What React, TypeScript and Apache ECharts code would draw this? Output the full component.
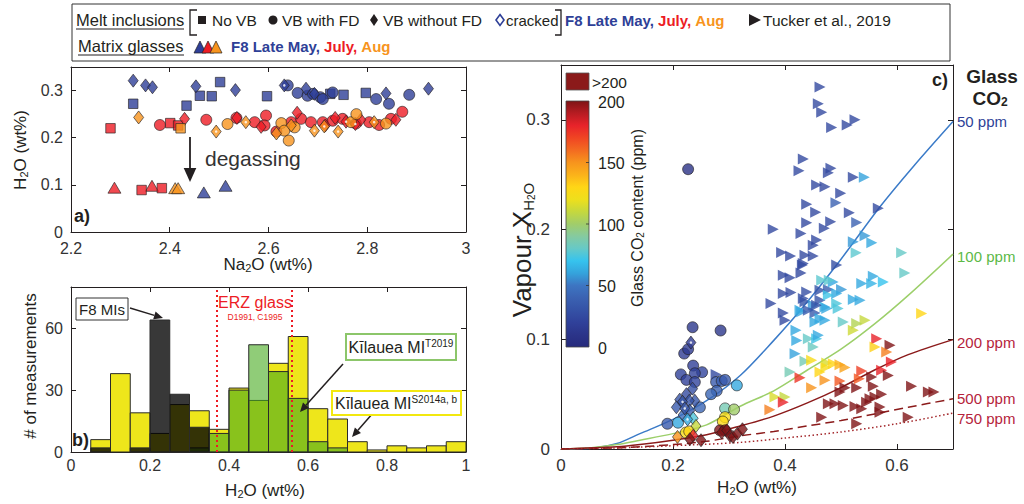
import React, { useEffect, useRef } from 'react';
import * as echarts from 'echarts';

// ---------------- Panel a: Na2O vs H2O (wt%) ----------------
const aBlueSquare = [[2.326, 0.272], [2.434, 0.268], [2.461, 0.289], [2.485, 0.288], [2.502, 0.318], [2.597, 0.288], [2.725, 0.293], [2.752, 0.291], [2.797, 0.295]];
const aBlueCircle = [[2.639, 0.311], [2.659, 0.295], [2.679, 0.289], [2.69, 0.293], [2.705, 0.286], [2.71, 0.282], [2.73, 0.296], [2.818, 0.282], [2.844, 0.272], [2.885, 0.291]];
const aBlueDiamond = [[2.326, 0.321], [2.351, 0.311], [2.365, 0.307], [2.453, 0.309], [2.533, 0.301], [2.676, 0.304], [2.693, 0.293], [2.838, 0.294], [2.924, 0.304]];
const aBlueCracked = [[2.632, 0.311]];
const aBlueTriangle = [[2.469, 0.084], [2.513, 0.098]];

const aRedSquare = [[2.28, 0.22], [2.401, 0.231], [2.417, 0.226], [2.343, 0.089], [2.384, 0.093]];
const aRedCircle = [[2.38, 0.227], [2.474, 0.238], [2.535, 0.242], [2.572, 0.233], [2.595, 0.247], [2.592, 0.226], [2.616, 0.213], [2.646, 0.233], [2.666, 0.24], [2.686, 0.233], [2.71, 0.233], [2.73, 0.236], [2.75, 0.24], [2.777, 0.23], [2.804, 0.233], [2.824, 0.227], [2.848, 0.24], [2.871, 0.255]];
const aRedDiamond = [[2.43, 0.24], [2.536, 0.242], [2.658, 0.253], [2.735, 0.242], [2.787, 0.238], [2.858, 0.238], [2.585, 0.223], [2.715, 0.226]];
const aRedCracked = [[2.757, 0.234], [2.776, 0.229]];
const aRedTriangle = [[2.288, 0.094], [2.364, 0.098]];

const aOrangeSquare = [[2.422, 0.22]];
const aOrangeCircle = [[2.517, 0.229], [2.626, 0.231], [2.641, 0.194], [2.653, 0.222], [2.632, 0.215], [2.767, 0.233], [2.778, 0.25], [2.838, 0.23]];
const aOrangeDiamond = [[2.337, 0.243], [2.616, 0.209], [2.646, 0.226]];
const aOrangeCracked = [[2.494, 0.213], [2.554, 0.233], [2.693, 0.215], [2.713, 0.224], [2.741, 0.213], [2.814, 0.233]];
const aOrangeTriangle = [[2.411, 0.093], [2.417, 0.093]];

// ---------------- Panel b: histograms of H2O ----------------
const binStarts = [0.05, 0.1, 0.15, 0.2, 0.25, 0.3, 0.35, 0.4, 0.45, 0.5, 0.55, 0.6, 0.65, 0.7, 0.75, 0.8, 0.85, 0.9, 0.95];
const BIN_W = 0.05;
const histS2014 = [6, 38, 19, 9, 23, 20, 11, 31, 25, 43, 56, 21, 16, 5, 1, 3, 2, 3, 5];
const histT2019 = [0, 0, 0, 0, 0, 2, 9, 30, 52, 39, 26, 5, 2, 0, 0, 0, 0, 0, 0];
const histF8 = [2, 0, 2, 64, 28, 12, 0, 0, 0, 0, 0, 0, 0, 0, 0, 0, 0, 0, 0];
const erzGlass = [0.37, 0.56];

// ---------------- Panel c: H2O vs vapour X_H2O, glass CO2 (ppm) ----------------
const cCircle = [[0.227, 0.255, 8], [0.235, 0.111, 12], [0.285, 0.108, 12], [0.22, 0.087, 15], [0.227, 0.091, 14], [0.236, 0.076, 18], [0.214, 0.068, 20], [0.252, 0.07, 22], [0.239, 0.069, 20], [0.224, 0.063, 18], [0.239, 0.061, 22], [0.277, 0.061, 35], [0.287, 0.062, 38], [0.293, 0.063, 35], [0.278, 0.053, 40], [0.268, 0.05, 42], [0.314, 0.058, 62], [0.248, 0.038, 42], [0.19, 0.023, 35], [0.209, 0.024, 62], [0.293, 0.037, 85], [0.309, 0.036, 100], [0.293, 0.029, 125], [0.289, 0.025, 128], [0.223, 0.015, 125], [0.229, 0.016, 130], [0.284, 0.017, 250], [0.293, 0.017, 250]];
const cDiamond = [[0.224, 0.05, 25], [0.235, 0.055, 28], [0.212, 0.045, 30], [0.239, 0.044, 32], [0.229, 0.044, 30], [0.206, 0.038, 35], [0.23, 0.035, 38], [0.218, 0.031, 45], [0.236, 0.028, 75], [0.241, 0.021, 110], [0.208, 0.011, 150], [0.236, 0.012, 180], [0.23, 0.009, 250], [0.25, 0.008, 250], [0.287, 0.015, 250], [0.296, 0.017, 250], [0.302, 0.012, 250], [0.307, 0.011, 250], [0.315, 0.014, 250], [0.324, 0.018, 250]];
const cCracked = [[0.232, 0.097, 15], [0.217, 0.043, 30], [0.221, 0.037, 32], [0.226, 0.027, 62]];
const cTucker = [
  [0.4625, 0.33, 25], [0.4595, 0.3146, 25], [0.4655, 0.307, 25], [0.4833, 0.293, 25], [0.511, 0.2954, 25], [0.525, 0.3, 25],
  [0.4327, 0.2644, 25], [0.425, 0.2537, 25], [0.482, 0.2559, 25], [0.4774, 0.2519, 25], [0.522, 0.2477, 25], [0.5416, 0.2477, 60],
  [0.4565, 0.2406, 25], [0.4714, 0.239, 25], [0.4994, 0.233, 25], [0.4387, 0.223, 25], [0.491, 0.2245, 40], [0.4548, 0.2157, 25], [0.5148, 0.2154, 25], [0.5666, 0.2194, 25],
  [0.4387, 0.2062, 25], [0.4816, 0.2071, 25], [0.528, 0.2065, 40], [0.379, 0.2002, 25], [0.4286, 0.1965, 25], [0.4702, 0.2011, 25], [0.4565, 0.1904, 25], [0.4505, 0.1858, 25], [0.522, 0.1889, 58], [0.543, 0.1943, 58], [0.555, 0.188, 62],
  [0.394, 0.1792, 25], [0.41, 0.1758, 25], [0.4357, 0.1767, 25], [0.4505, 0.1758, 25], [0.527, 0.1788, 78], [0.6083, 0.1788, 80],
  [0.431, 0.1676, 25], [0.397, 0.1584, 25], [0.409, 0.156, 25], [0.4286, 0.1605, 25], [0.4923, 0.1676, 28], [0.4327, 0.169, 25],
  [0.4107, 0.1426, 25], [0.4387, 0.1432, 28], [0.4357, 0.1341, 30], [0.4505, 0.131, 58], [0.4625, 0.1356, 30], [0.4714, 0.1295, 62], [0.4774, 0.1454, 38], [0.4923, 0.1326, 75], [0.4655, 0.1539, 78], [0.486, 0.1523, 62],
  [0.375, 0.1326, 25], [0.397, 0.124, 25], [0.4298, 0.125, 60], [0.4536, 0.124, 35], [0.4536, 0.1158, 62], [0.4714, 0.1173, 62],
  [0.5577, 0.1575, 62], [0.537, 0.1509, 62], [0.5548, 0.1509, 65], [0.5756, 0.1523, 70], [0.614, 0.1605, 80], [0.479, 0.1539, 78], [0.501, 0.1454, 58],
  [0.397, 0.1417, 25], [0.4327, 0.1371, 28], [0.4625, 0.1447, 30], [0.4923, 0.1417, 62], [0.4774, 0.1402, 72], [0.522, 0.1362, 62], [0.534, 0.1356, 62],
  [0.4268, 0.1265, 62], [0.4417, 0.1265, 35], [0.4565, 0.131, 30], [0.4745, 0.128, 62], [0.495, 0.128, 75],
  [0.4, 0.1173, 25], [0.4625, 0.1189, 62], [0.504, 0.1158, 80],
  [0.644, 0.1234, 130], [0.543, 0.1173, 110], [0.528, 0.1143, 105], [0.522, 0.1082, 112],
  [0.4196, 0.1082, 62], [0.421, 0.099, 62], [0.4417, 0.1006, 80], [0.4565, 0.1006, 72], [0.4595, 0.1036, 62], [0.418, 0.0869, 60], [0.4505, 0.093, 82],
  [0.5637, 0.1006, 180], [0.5875, 0.0945, 250], [0.5607, 0.093, 132], [0.5816, 0.0884, 155], [0.59, 0.0793, 180],
  [0.4357, 0.0799, 85], [0.4476, 0.0808, 125], [0.4745, 0.0784, 115], [0.4863, 0.0778, 130], [0.4982, 0.0769, 140], [0.5071, 0.0742, 145],
  [0.409, 0.0701, 85], [0.4625, 0.0701, 130], [0.473, 0.0742, 125], [0.537, 0.071, 172], [0.5726, 0.0717, 180], [0.5845, 0.0671, 250], [0.5548, 0.0656, 250],
  [0.4268, 0.065, 175], [0.4476, 0.0559, 150], [0.4714, 0.0626, 150], [0.4982, 0.0619, 165], [0.5327, 0.0641, 165],
  [0.4982, 0.0519, 250], [0.5071, 0.0559, 250], [0.528, 0.0559, 250], [0.5577, 0.0571, 250], [0.5607, 0.0473, 250], [0.5726, 0.0498, 250], [0.5518, 0.0458, 250], [0.5458, 0.0427, 250], [0.525, 0.0388, 250], [0.537, 0.0367, 250], [0.5696, 0.0382, 250], [0.4774, 0.0413, 250], [0.4893, 0.0413, 250], [0.504, 0.0397, 250], [0.626, 0.0571, 250], [0.656, 0.0519, 250], [0.666, 0.0519, 250],
  [0.4, 0.0473, 110], [0.382, 0.0473, 115], [0.397, 0.0427, 180], [0.373, 0.0358, 155],
  [0.4655, 0.029, 250], [0.528, 0.023, 250], [0.5696, 0.0336, 250], [0.62, 0.029, 250],
  [0.277, 0.068, 25],
];

// Isobars (glass CO2, ppm): [H2O, X_H2O]
const iso50 = [[0, 0], [0.06, 0.001], [0.1, 0.005], [0.141, 0.014], [0.2, 0.027], [0.26, 0.044], [0.32, 0.067], [0.38, 0.099], [0.43, 0.128], [0.5, 0.173], [0.57, 0.221], [0.63, 0.258], [0.7, 0.2985]];
const iso100 = [[0, 0], [0.05, 0.001], [0.1, 0.004], [0.141, 0.008], [0.2, 0.014], [0.26, 0.022], [0.32, 0.039], [0.38, 0.053], [0.44, 0.072], [0.5, 0.091], [0.56, 0.114], [0.62, 0.14], [0.7, 0.1776]];
const iso200 = [[0, 0], [0.1, 0.002], [0.141, 0.004], [0.2, 0.008], [0.26, 0.013], [0.32, 0.021], [0.38, 0.03], [0.44, 0.042], [0.5, 0.056], [0.56, 0.072], [0.62, 0.086], [0.7, 0.0997]];
const iso500 = [[0, 0], [0.1, 0.001], [0.2, 0.004], [0.26, 0.007], [0.32, 0.012], [0.38, 0.016], [0.44, 0.021], [0.5, 0.026], [0.56, 0.032], [0.62, 0.038], [0.7, 0.0458]];
const iso750 = [[0, 0], [0.1, 0.001], [0.2, 0.003], [0.32, 0.006], [0.4, 0.01], [0.5, 0.0155], [0.6, 0.023], [0.7, 0.0327]];
const isoLabels = ['50 ppm', '100 ppm', '200 ppm', '500 ppm', '750 ppm'];
const cbTicks = [0, 50, 100, 150, 200];

// ---------------- styles ----------------
const FONT = '"Liberation Sans", Arial, Helvetica, sans-serif';
const INK = '#231f20';
const BLUE = '#2e3f97';
const RED = '#ed1c24';
const ORANGE = '#f7941d';
const JET = ['#262a7c', '#2b3489', '#30419a', '#3552a6', '#3b62b2', '#3d75c2', '#35a3dc', '#36c3ee', '#66c9c7', '#85caa0', '#a1cd6a', '#c5d83e', '#eedf1c', '#ffd616', '#fbb21a', '#f7941d', '#f36b21', '#f04523', '#e8232a', '#b71c22', '#7f1416'];

const fmt = (v: number) => String(parseFloat(v.toFixed(2)));

function axis(gridIndex: number, pos: string, min: number, max: number, interval: number, labels: boolean, fontSize = 16, margin = 8) {
  const rem = max % interval;
  return {
    type: 'value', gridIndex, position: pos, min, max, interval,
    axisLine: { show: true, onZero: false, lineStyle: { color: INK, width: 1 } },
    axisTick: { show: true, inside: true, length: 5, lineStyle: { color: INK } },
    splitLine: { show: false },
    axisLabel: { show: labels, fontFamily: FONT, fontSize, color: '#333', margin, formatter: fmt, showMaxLabel: rem < 1e-9 || Math.abs(rem - interval) < 1e-9 },
  };
}

function arrow(x1: number, y1: number, x2: number, y2: number, color = INK, w = 1.5, head = 9) {
  const a = Math.atan2(y2 - y1, x2 - x1);
  const bx = x2 - head * Math.cos(a), by = y2 - head * Math.sin(a);
  const px = Math.sin(a) * head * 0.45, py = -Math.cos(a) * head * 0.45;
  return [
    { type: 'line', shape: { x1, y1, x2: bx, y2: by }, style: { stroke: color, lineWidth: w }, z: 50 },
    { type: 'polygon', shape: { points: [[x2, y2], [bx + px, by + py], [bx - px, by - py]] }, style: { fill: color }, z: 50 },
  ];
}

function txt(x: number, y: number, text: string, o: any = {}) {
  const { rotation, z, ...style } = o;
  return {
    type: 'text', x, y, rotation: rotation || 0, z: z || 60,
    style: { text, fontFamily: FONT, fontSize: 15, fill: INK, align: 'left', verticalAlign: 'middle', ...style },
  };
}

function buildOption() {
  const series: any[] = [];
  const sc = (data: any[], symbol: string, color: string, size: any, xi: number, yi: number, extra: any = {}) => {
    series.push({
      type: 'scatter', xAxisIndex: xi, yAxisIndex: yi, data, symbol, symbolSize: size,
      itemStyle: { color, borderColor: INK, borderWidth: 0.8 }, silent: true, ...extra,
    });
    return series.length - 1;
  };
  const dot = (data: any[], xi: number, yi: number) => sc(data, 'circle', '#ffffff', 2.5, xi, yi, { itemStyle: { color: '#fff', borderWidth: 0 }, z: 5 });

  // ---- panel a ----
  const groups: [any[], any[], any[], any[], any[], string][] = [
    [aBlueSquare, aBlueCircle, aBlueDiamond, aBlueCracked, aBlueTriangle, BLUE],
    [aRedSquare, aRedCircle, aRedDiamond, aRedCracked, aRedTriangle, RED],
    [aOrangeSquare, aOrangeCircle, aOrangeDiamond, aOrangeCracked, aOrangeTriangle, ORANGE],
  ];
  groups.forEach(([sq, ci, di, cr, tr, col], gi) => {
    const z = 3 + gi * 0.1;
    sc(tr, 'triangle', col, [13, 11], 0, 0, { z });
    sc(sq, 'rect', col, 9.5, 0, 0, { z });
    sc(ci, 'circle', col, 11, 0, 0, { z });
    sc(di, 'diamond', col, [10, 13], 0, 0, { z });
    sc(cr, 'diamond', col, [10, 13], 0, 0, { z });
    dot(cr, 0, 0);
  });

  // ---- panel b ----
  const hist = (vals: number[], fill: string, markLine?: any) => {
    series.push({
      type: 'custom', xAxisIndex: 2, yAxisIndex: 2, silent: true,
      data: binStarts.map((b, i) => [b, vals[i]]),
      encode: { x: 0, y: 1 },
      renderItem: (params: any, api: any) => {
        const x0 = api.value(0), v = api.value(1);
        if (!v) return { type: 'group', children: [] };
        const p0 = api.coord([x0, v]);
        const p1 = api.coord([x0 + BIN_W, 0]);
        return { type: 'rect', shape: { x: p0[0], y: p0[1], width: p1[0] - p0[0], height: p1[1] - p0[1] }, style: { fill, stroke: '#2a2a2a', lineWidth: 1 } };
      },
      markLine,
    });
  };
  hist(histS2014, '#eee61b');
  hist(histT2019, 'rgba(70,170,30,0.6)');
  hist(histF8, 'rgba(0,0,0,0.78)', {
    silent: true, symbol: ['none', 'none'], label: { show: false },
    lineStyle: { color: RED, type: [2, 3], width: 2 },
    data: erzGlass.map((v) => ({ xAxis: v })),
  });

  // ---- panel c ----
  const isoDefs: [any[], string, any, string, number][] = [
    [iso50, '#3b7bc8', 'solid', '#2e3f97', 0],
    [iso100, '#9ccf6a', 'solid', '#5cb947', 2],
    [iso200, '#8b1a1a', 'solid', '#b5233b', 3],
    [iso500, '#8b1a1a', [9, 5], '#b5233b', 0],
    [iso750, '#a3262a', [1.5, 2.5], '#b5233b', 5],
  ];
  isoDefs.forEach(([d, col, type, lc, dy], i) => {
    series.push({
      type: 'line', xAxisIndex: 4, yAxisIndex: 4, data: d, smooth: 0.3, showSymbol: false, silent: true, z: 2,
      lineStyle: { color: col, width: 1.5, type },
      endLabel: { show: true, formatter: isoLabels[i], color: lc, fontFamily: FONT, fontSize: 15, distance: 4, offset: [0, dy] },
    });
  });
  const mapped: number[] = [];
  mapped.push(sc(cTucker, 'triangle', '#000', 11, 4, 4, { symbolRotate: -90, itemStyle: { borderWidth: 0 }, z: 3 }));
  mapped.push(sc(cCircle, 'circle', '#000', 11, 4, 4, { z: 4 }));
  mapped.push(sc(cDiamond, 'diamond', '#000', [10, 13], 4, 4, { z: 4 }));
  mapped.push(sc(cCracked, 'diamond', '#000', [10, 13], 4, 4, { z: 4 }));
  dot(cCracked, 4, 4);

  // ---------- graphics ----------
  const g: any[] = [];
  const LF = 15.5;
  // legend box
  g.push({ type: 'rect', shape: { x: 72, y: 4, width: 878, height: 57 }, style: { fill: 'none', stroke: '#333', lineWidth: 1 }, z: 40 });
  g.push(txt(76, 20, 'Melt inclusions', { fontSize: 16.5 }));
  g.push({ type: 'line', shape: { x1: 76, y1: 29, x2: 184, y2: 29 }, style: { stroke: INK, lineWidth: 1 }, z: 40 });
  g.push({ type: 'polyline', shape: { points: [[197, 10], [190, 10], [190, 35], [197, 35]] }, style: { stroke: INK, lineWidth: 1.3, fill: 'none' }, z: 40 });
  g.push({ type: 'rect', shape: { x: 198, y: 16, width: 8, height: 8 }, style: { fill: INK }, z: 40 });
  g.push(txt(212, 20, 'No VB', { fontSize: LF }));
  g.push({ type: 'circle', shape: { cx: 273, cy: 20, r: 4.5 }, style: { fill: INK }, z: 40 });
  g.push(txt(282, 20, 'VB with FD', { fontSize: LF }));
  g.push({ type: 'polygon', shape: { points: [[374, 14], [378, 20], [374, 26], [370, 20]] }, style: { fill: INK }, z: 40 });
  g.push(txt(383, 20, 'VB without FD', { fontSize: LF }));
  g.push({ type: 'polygon', shape: { points: [[500, 14.5], [504, 20], [500, 25.5], [496, 20]] }, style: { fill: 'none', stroke: BLUE, lineWidth: 1.6 }, z: 40 });
  g.push(txt(506, 20, 'cracked', { fontSize: 15 }));
  g.push({ type: 'polyline', shape: { points: [[555, 10], [561, 10], [561, 35], [555, 35]] }, style: { stroke: INK, lineWidth: 1.3, fill: 'none' }, z: 40 });
  const months = '{b|F8 Late May, }{r|July, }{o|Aug}';
  const monthRich = {
    b: { fontFamily: FONT, fontSize: 15, fontWeight: 'bold', fill: BLUE },
    r: { fontFamily: FONT, fontSize: 15, fontWeight: 'bold', fill: RED },
    o: { fontFamily: FONT, fontSize: 15, fontWeight: 'bold', fill: ORANGE },
  };
  g.push(txt(565, 20, months, { rich: monthRich }));
  g.push({ type: 'polygon', shape: { points: [[749, 14], [761, 20], [749, 26]] }, style: { fill: INK }, z: 40 });
  g.push(txt(763, 20, 'Tucker et al., 2019', { fontSize: LF }));
  g.push(txt(78, 46, 'Matrix glasses', { fontSize: 16.5 }));
  g.push({ type: 'line', shape: { x1: 78, y1: 55, x2: 184, y2: 55 }, style: { stroke: INK, lineWidth: 1 }, z: 40 });
  [[194, BLUE], [202, RED], [210, ORANGE]].forEach(([x, c]: any) => {
    g.push({ type: 'polygon', shape: { points: [[x, 53], [x + 6, 41], [x + 12, 53]] }, style: { fill: c, stroke: INK, lineWidth: 0.7 }, z: 40 });
  });
  g.push(txt(231, 46, months, { rich: monthRich }));

  // panel a annotations
  g.push(txt(74, 216, 'a)', { fontSize: 18, fontWeight: 'bold' }));
  g.push(...arrow(190, 137, 190, 182, INK, 1.8, 14));
  g.push(txt(205, 158, 'degassing', { fontSize: 21, fill: '#333' }));
  const sub = { fontFamily: FONT, fontSize: 11, lineHeight: 8, verticalAlign: 'bottom', fill: INK };
  g.push(txt(268, 264, 'Na{s|2}O (wt%)', { fontSize: 17, align: 'center', lineHeight: 18, rich: { s: sub } }));
  g.push(txt(20, 150, 'H{s|2}O (wt%)', { fontSize: 17, align: 'center', lineHeight: 18, rotation: Math.PI / 2, rich: { s: sub } }));

  // panel b annotations
  g.push(txt(72, 440, 'b)', { fontSize: 18, fontWeight: 'bold' }));
  g.push(txt(30, 366, '# of measurements', { fontSize: 17, align: 'center', rotation: Math.PI / 2 }));
  g.push(txt(265, 490, 'H{s|2}O (wt%)', { fontSize: 17, align: 'center', lineHeight: 18, rich: { s: sub } }));
  g.push({ type: 'rect', shape: { x: 76, y: 298, width: 52, height: 22 }, style: { fill: '#fff', stroke: '#333', lineWidth: 1 }, z: 55 });
  g.push(txt(102, 309, 'F8 MIs', { fontSize: 15, align: 'center' }));
  g.push(...arrow(130, 308, 163, 318, INK, 1.5, 9));
  g.push(txt(255, 302, 'ERZ glass', { fontSize: 16, align: 'center', fill: RED }));
  g.push(txt(255, 317, 'D1991, C1995', { fontSize: 8.5, align: 'center', fill: RED }));
  const sup = { fontFamily: FONT, fontSize: 10, lineHeight: 10, verticalAlign: 'top', fill: INK };
  g.push({ type: 'rect', shape: { x: 346, y: 334, width: 110, height: 26 }, style: { fill: '#fff', stroke: '#8cc66a', lineWidth: 2 }, z: 55 });
  g.push(txt(401, 347, 'Kīlauea MI{p|T2019}', { fontSize: 16, align: 'center', lineHeight: 18, rich: { p: sup } }));
  g.push(...arrow(343, 364, 300, 412, INK, 1.5, 9));
  g.push({ type: 'rect', shape: { x: 332, y: 391, width: 129, height: 24 }, style: { fill: '#fff', stroke: '#f2e80f', lineWidth: 2 }, z: 55 });
  g.push(txt(396, 403, 'Kīlauea MI{p|S2014a, b}', { fontSize: 16, align: 'center', lineHeight: 18, rich: { p: sup } }));
  g.push(...arrow(373, 413, 352, 437, INK, 1.5, 9));

  // panel c annotations
  g.push(txt(932, 80, 'c)', { fontSize: 18, fontWeight: 'bold' }));
  g.push(txt(992, 76, 'Glass', { fontSize: 19, fontWeight: 'bold', align: 'center' }));
  g.push(txt(990, 98, 'CO{s|2}', { fontSize: 19, fontWeight: 'bold', align: 'center', lineHeight: 20, rich: { s: { fontFamily: FONT, fontSize: 12, fontWeight: 'bold', lineHeight: 8, verticalAlign: 'bottom', fill: INK } } }));
  g.push(txt(757, 487, 'H{s|2}O (wt%)', { fontSize: 17, align: 'center', lineHeight: 18, rich: { s: sub } }));
  g.push(txt(522, 250, 'Vapour X{s|H}{t|2}{s|O}', {
    fontSize: 26, align: 'center', lineHeight: 28, rotation: Math.PI / 2,
    rich: {
      s: { fontFamily: FONT, fontSize: 15, lineHeight: 12, verticalAlign: 'bottom', fill: INK },
      t: { fontFamily: FONT, fontSize: 10, lineHeight: 4, verticalAlign: 'bottom', fill: INK },
    },
  }));
  // colour bar
  g.push({ type: 'rect', shape: { x: 566, y: 73, width: 23, height: 17 }, style: { fill: '#8b1a1a', stroke: '#555', lineWidth: 0.8 }, z: 45 });
  g.push(txt(592, 82, '>200', { fontSize: 15.5 }));
  const cbTop = 101, cbH = 246;
  g.push({
    type: 'rect', shape: { x: 566, y: cbTop, width: 23, height: cbH },
    style: { fill: new echarts.graphic.LinearGradient(0, 1, 0, 0, JET.map((c, i) => ({ offset: i / (JET.length - 1), color: c }))), stroke: '#444', lineWidth: 0.8 }, z: 45,
  });
  cbTicks.forEach((v) => {
    const y = cbTop + cbH - (v / 200) * cbH;
    g.push(txt(598, y + 1, String(v), { fontSize: 16 }));
    if (v > 0 && v < 200) g.push({ type: 'line', shape: { x1: 586, y1: y, x2: 589, y2: y }, style: { stroke: '#333', lineWidth: 0.8 }, z: 46 });
  });
  g.push(txt(637, 218, 'Glass CO{s|2} content (ppm)', { fontSize: 16, align: 'center', lineHeight: 17, rotation: Math.PI / 2, rich: { s: { fontFamily: FONT, fontSize: 10, lineHeight: 7, verticalAlign: 'bottom', fill: INK } } }));

  return {
    animation: false,
    backgroundColor: '#ffffff',
    grid: [
      { left: 71, top: 67, width: 395, height: 165 },
      { left: 71, top: 287, width: 395, height: 165 },
      { left: 561, top: 65, width: 392, height: 384 },
    ],
    xAxis: [
      axis(0, 'bottom', 2.2, 3, 0.2, true, 16, 8),
      axis(0, 'top', 2.2, 3, 0.2, false),
      axis(1, 'bottom', 0, 1, 0.2, true, 16, 5),
      axis(1, 'top', 0, 1, 0.2, false),
      axis(2, 'bottom', 0, 0.7, 0.2, true, 17, 8),
      axis(2, 'top', 0, 0.7, 0.2, false),
    ],
    yAxis: [
      axis(0, 'left', 0, 0.35, 0.1, true, 16, 8),
      axis(0, 'right', 0, 0.35, 0.1, false),
      axis(1, 'left', 0, 80, 30, true, 16, 8),
      axis(1, 'right', 0, 80, 30, false),
      axis(2, 'left', 0, 0.35, 0.1, true, 17, 11),
      axis(2, 'right', 0, 0.35, 0.1, false),
    ],
    visualMap: {
      show: false, type: 'continuous', dimension: 2, min: 0, max: 200, seriesIndex: mapped,
      inRange: { color: JET },
    },
    graphic: g,
    series,
  };
}

export default function App() {
  const ref = useRef<HTMLDivElement>(null);
  useEffect(() => {
    const chart = echarts.init(ref.current as HTMLDivElement, null, { renderer: 'svg' });
    chart.setOption(buildOption() as any);
    return () => chart.dispose();
  }, []);
  return <div ref={ref} style={{ position: 'fixed', left: 0, top: 0, width: 1024, height: 504, background: '#fff' }} />;
}
